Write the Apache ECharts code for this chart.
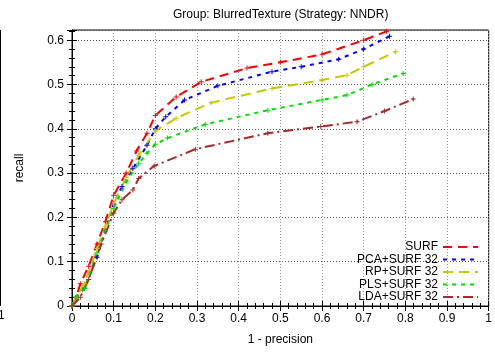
<!DOCTYPE html>
<html><head><meta charset="utf-8">
<script src="https://cdn.jsdelivr.net/npm/echarts@6/dist/echarts.min.js"></script>
<style>html,body{margin:0;padding:0;background:#fff}#c{width:495px;height:352px}</style>
</head><body><div id="c"></div>
<script>
const titleText = 'Group: BlurredTexture (Strategy: NNDR)';
const xName = '1 - precision';
const yName = 'recall';
const seriesNames = ['SURF', 'PCA+SURF 32', 'RP+SURF 32', 'PLS+SURF 32', 'LDA+SURF 32'];

const surfX = [0, 0.01, 0.02, 0.04, 0.06, 0.08, 0.1, 0.13, 0.155, 0.18, 0.2, 0.25, 0.31, 0.42, 0.5, 0.6, 0.7, 0.755];
const surfY = [0, 0.02, 0.05, 0.09, 0.14, 0.19, 0.25, 0.3, 0.35, 0.39, 0.43, 0.472, 0.506, 0.537, 0.55, 0.568, 0.6, 0.62];

const pcaX = [0, 0.01, 0.03, 0.06, 0.08, 0.1, 0.12, 0.146, 0.18, 0.2, 0.225, 0.27, 0.35, 0.48, 0.55, 0.64, 0.7, 0.762];
const pcaY = [0, 0.02, 0.04, 0.11, 0.17, 0.23, 0.27, 0.31, 0.363, 0.4, 0.427, 0.465, 0.497, 0.529, 0.54, 0.557, 0.58, 0.609];

const rpX = [0, 0.01, 0.03, 0.06, 0.08, 0.1, 0.13, 0.16, 0.2, 0.25, 0.334, 0.48, 0.6, 0.66, 0.7, 0.777];
const rpY = [0, 0.02, 0.05, 0.13, 0.18, 0.23, 0.29, 0.34, 0.395, 0.424, 0.459, 0.491, 0.51, 0.521, 0.54, 0.574];

const plsX = [0, 0.01, 0.03, 0.06, 0.08, 0.1, 0.13, 0.16, 0.18, 0.2, 0.229, 0.32, 0.47, 0.6, 0.66, 0.72, 0.795];
const plsY = [0, 0.02, 0.04, 0.12, 0.17, 0.22, 0.28, 0.322, 0.345, 0.365, 0.379, 0.41, 0.442, 0.465, 0.476, 0.5, 0.525];

const ldaX = [0, 0.02, 0.04, 0.07, 0.1, 0.12, 0.146, 0.16, 0.197, 0.296, 0.47, 0.597, 0.684, 0.75, 0.819];
const ldaY = [0, 0.02, 0.06, 0.14, 0.21, 0.24, 0.262, 0.288, 0.316, 0.354, 0.39, 0.405, 0.416, 0.44, 0.467];

const xTicks = [0, 0.1, 0.2, 0.3, 0.4, 0.5, 0.6, 0.7, 0.8, 0.9, 1];
const yTicks = [0, 0.1, 0.2, 0.3, 0.4, 0.5, 0.6];

const zip = (xs, ys) => xs.map((x, i) => [x, ys[i]]);
const allData = [zip(surfX, surfY), zip(pcaX, pcaY), zip(rpX, rpY), zip(plsX, plsY), zip(ldaX, ldaY)];
const colors = ['#ff0000', '#0000ff', '#c8c800', '#00e000', '#a52a2a'];
const dashes = [[9, 6], [4, 5], [10, 6], [4, 5], [10, 4, 2, 4]];
const FONT = 'Liberation Sans';
const plus = 'path://M4,0H6V4H10V6H6V10H4V6H0V4H4Z';

const chart = echarts.init(document.getElementById('c'), null, {renderer: 'canvas'});
const fmtX = v => { const r = Math.round(v * 10) / 10; return Math.abs(r - v) < 1e-6 && xTicks.indexOf(r) >= 0 ? String(r) : ''; };
const fmtY = v => { const r = Math.round(v * 10) / 10; return Math.abs(r - v) < 1e-6 && yTicks.indexOf(r) >= 0 ? String(r) : ''; };

const baseAxis = {
  axisLine: {show: true, lineStyle: {color: '#000', width: 1}},
  axisTick: {show: true, inside: true, length: 5, lineStyle: {color: '#000'}},
  minorTick: {show: true, splitNumber: 5, length: 3, lineStyle: {color: '#000'}},
};

chart.setOption({
  animation: false,
  backgroundColor: '#fff',
  title: {text: titleText, left: 168, top: 4, textStyle: {fontFamily: FONT, fontSize: 12, fontWeight: 'normal', color: '#000'}},
  grid: {left: 72, right: 2, top: 30, bottom: 46, show: true, borderColor: '#000', borderWidth: 1},
  legend: {
    orient: 'vertical', align: 'right', right: 11, top: 236,
    itemWidth: 35, itemHeight: 10, itemGap: 0.5,
    textStyle: {fontFamily: FONT, fontSize: 12, lineHeight: 12, color: '#000'},
    itemStyle: {opacity: 0},
    data: seriesNames
  },
  xAxis: [
    Object.assign({}, baseAxis, {
      type: 'value', min: 0, max: 1, interval: 0.1, position: 'bottom',
      name: xName, nameLocation: 'middle', nameGap: 28,
      nameTextStyle: {fontFamily: FONT, fontSize: 12, color: '#000'},
      axisLabel: {fontFamily: FONT, fontSize: 12, color: '#000', margin: 7, formatter: fmtX},
      splitLine: {show: true, lineStyle: {color: '#999', type: [1, 2], width: 1}}
    }),
    Object.assign({}, baseAxis, {
      type: 'value', min: 0, max: 1, interval: 0.1, position: 'top',
      axisLabel: {show: false}, splitLine: {show: false}
    })
  ],
  yAxis: [
    Object.assign({}, baseAxis, {
      type: 'value', min: 0, max: 0.623, interval: 0.1, position: 'left',
      name: yName, nameLocation: 'middle', nameGap: 46,
      nameTextStyle: {fontFamily: FONT, fontSize: 12, color: '#000'},
      axisLabel: {fontFamily: FONT, fontSize: 12, color: '#000', margin: 8, formatter: fmtY},
      splitLine: {show: true, lineStyle: {color: '#555', type: [1, 2], width: 1}}
    }),
    Object.assign({}, baseAxis, {
      type: 'value', min: 0, max: 0.623, interval: 0.1, position: 'right',
      axisLabel: {show: false}, splitLine: {show: false}
    })
  ],
  graphic: [
    {type: 'line', shape: {x1: 0.5, y1: 30, x2: 0.5, y2: 306}, style: {stroke: '#000', lineWidth: 1}},
    {type: 'text', x: -2, y: 310, style: {text: '1', font: '12px "Liberation Sans"', fill: '#000'}}
  ],
  series: seriesNames.map((n, i) => ({
    name: n, type: 'line', data: allData[i], xAxisIndex: 0, yAxisIndex: 0,
    symbol: plus, symbolSize: 5, showSymbol: true,
    itemStyle: {color: colors[i]},
    lineStyle: {color: colors[i], width: 2, type: dashes[i]},
    clip: true
  }))
});
</script></body></html>
